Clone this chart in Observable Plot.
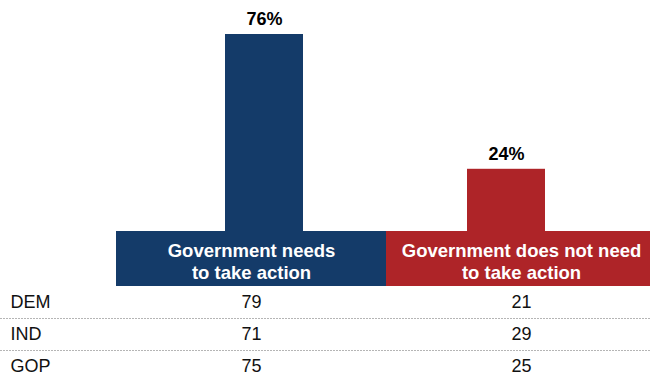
<!DOCTYPE html>
<html>
<head>
<meta charset="utf-8">
<script src="https://cdn.jsdelivr.net/npm/d3@7"></script>
<script src="https://cdn.jsdelivr.net/npm/@observablehq/plot@0.6"></script>
<style>
  html, body { margin: 0; padding: 0; background: #fff; overflow: hidden; }
  #chart svg { display: block; }
</style>
</head>
<body>
<div id="chart"></div>
<script>
// ---- data ----
const categoryKeys = ["needs", "notNeed"];
const categoryLabels = ["Government needs\nto take action", "Government does not need\nto take action"];
const totals = [76, 24];
const parties = ["DEM", "IND", "GOP"];
const needsValues = [79, 71, 75];
const notNeedValues = [21, 29, 25];
const colors = ["#143b69", "#ae2428"];

const font = "'Liberation Sans', Arial, sans-serif";
const barData = categoryKeys.map((k, i) => ({key: k, value: totals[i]}));
const headerData = categoryKeys.map((k, i) => ({key: k, label: categoryLabels[i]}));
const tableData = parties.flatMap((p, i) => [
  {party: p, key: "needs", value: needsValues[i]},
  {party: p, key: "notNeed", value: notNeedValues[i]}
]);

const baseStyle = {fontFamily: font, background: "#fff", overflow: "visible"};

// ---- bars ----
const bars = Plot.plot({
  width: 650, height: 231,
  marginTop: 34, marginBottom: 0, marginLeft: 0, marginRight: 0,
  style: baseStyle,
  x: {type: "band", domain: categoryKeys, range: [143, 627], padding: 0, axis: null},
  y: {domain: [0, d3.max(totals)], axis: null},
  color: {domain: categoryKeys, range: colors},
  marks: [
    Plot.barY(barData, {x: "key", y: "value", fill: "key", insetLeft: 82, insetRight: 82}),
    Plot.text(barData, {x: "key", y: "value", text: d => d.value + "%", dy: -15,
      fontSize: 18, fontWeight: "bold", fill: "#000"})
  ]
});

// ---- header boxes ----
const header = Plot.plot({
  width: 650, height: 55,
  marginTop: 0, marginBottom: 0, marginLeft: 0, marginRight: 0,
  style: baseStyle,
  x: {type: "band", domain: categoryKeys, range: [116, 656], padding: 0, axis: null},
  color: {domain: categoryKeys, range: colors},
  marks: [
    Plot.cell(headerData, {x: "key", fill: "key", inset: 0}),
    Plot.text(headerData, {x: "key", text: "label", frameAnchor: "middle", dy: 1.5,
      fill: "#fff", fontSize: 18.5, fontWeight: "bold", lineHeight: 1.19})
  ]
});

// ---- table ----
const table = Plot.plot({
  width: 650, height: 90,
  marginTop: 0, marginBottom: 0, marginLeft: 0, marginRight: 0,
  style: baseStyle,
  x: {type: "band", domain: categoryKeys, range: [116, 656], padding: 0, axis: null},
  y: {type: "band", domain: parties, range: [0, 96], padding: 0, axis: null},
  marks: [
    Plot.ruleY(parties.slice(1), {y: d => d, dy: -16, stroke: "#b5b5b5", strokeDasharray: "2,1"}),
    Plot.text(parties, {y: d => d, text: d => d, frameAnchor: "left", dx: 10,
      textAnchor: "start", fontSize: 18, fill: "#111"}),
    Plot.text(tableData, {x: "key", y: "party", text: "value", fontSize: 18, fill: "#111"})
  ]
});

const el = document.getElementById("chart");
el.append(bars, header, table);
</script>
</body>
</html>
